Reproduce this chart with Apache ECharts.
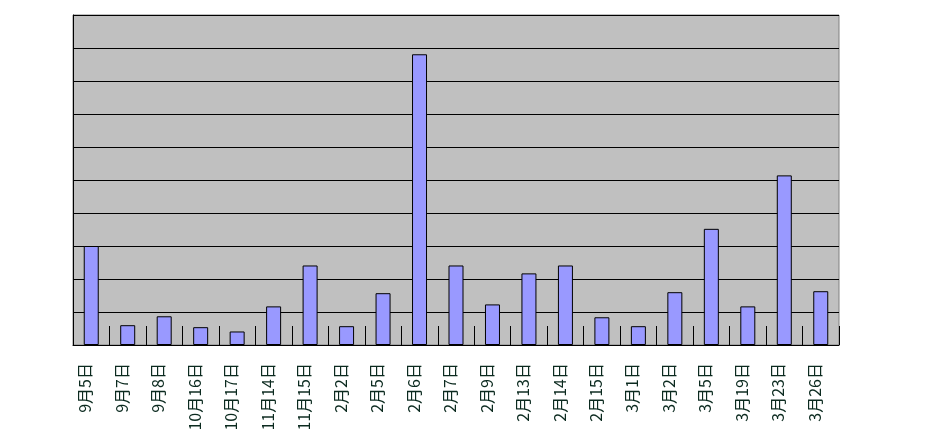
<!DOCTYPE html>
<html>
<head>
<meta charset="utf-8">
<script src="https://cdn.jsdelivr.net/npm/echarts@6/dist/echarts.min.js"></script>
<style>
  html, body { margin: 0; padding: 0; background: #fff; }
  #chart { width: 926px; height: 437px; }
</style>
</head>
<body>
<div id="chart"></div>
<script>
// 日付カテゴリ
const dates = ['9月5日', '9月7日', '9月8日', '10月16日', '10月17日', '11月14日', '11月15日',
  '2月2日', '2月5日', '2月6日', '2月7日', '2月9日', '2月13日', '2月14日', '2月15日',
  '3月1日', '3月2日', '3月5日', '3月19日', '3月23日', '3月26日']

// 棒の値（目盛 0〜100）
const values = [30, 6, 8.7, 5.4, 4.1, 11.7, 24.1,
  5.7, 15.7, 88.1, 24.1, 12.3, 21.7, 24.1, 8.4,
  5.7, 16, 35.2, 11.7, 51.4, 16.3]

const yMin = 0
const yMax = 100
const yStep = 10

const chart = echarts.init(document.getElementById('chart'))

chart.setOption({
  animation: false,
  grid: {
    left: 73,
    right: 87,
    top: 15,
    bottom: 92,
    show: true,
    backgroundColor: '#C0C0C0',
    borderColor: '#808080',
    borderWidth: 1
  },
  xAxis: {
    type: 'category',
    data: dates,
    axisLine: { show: true, lineStyle: { color: '#000', width: 1 } },
    axisTick: {
      show: true,
      inside: true,
      length: 19,
      alignWithLabel: false,
      lineStyle: { color: '#000', width: 1 }
    },
    axisLabel: {
      interval: 0,
      rotate: 90,
      margin: 18,
      color: '#0b2a1f',
      fontSize: 16,
      fontFamily: '"Noto Sans CJK JP", sans-serif',
      verticalAlign: 'bottom',
      lineHeight: 12
    }
  },
  yAxis: {
    type: 'value',
    min: yMin,
    max: yMax,
    interval: yStep,
    axisLine: { show: true, lineStyle: { color: '#000', width: 1 } },
    axisTick: { show: false },
    axisLabel: { show: false },
    splitLine: { show: true, lineStyle: { color: '#000', width: 1 } }
  },
  series: [
    {
      type: 'bar',
      data: values,
      barWidth: 15,
      itemStyle: {
        color: '#9999FF',
        borderColor: '#000',
        borderWidth: 1
      }
    }
  ]
})
</script>
</body>
</html>
